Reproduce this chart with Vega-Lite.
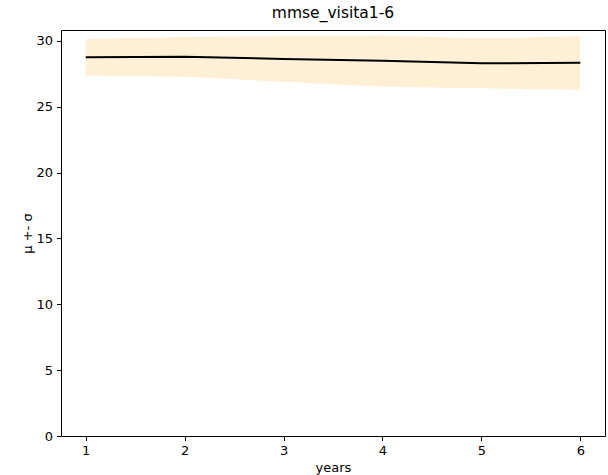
{
  "$schema": "https://vega.github.io/schema/vega-lite/v6.json",
  "width": 544,
  "height": 406,
  "autosize": {"type": "none"},
  "padding": {"left": 61, "top": 30, "right": 3, "bottom": 39},
  "background": "white",
  "title": {
    "text": "mmse_visita1-6",
    "font": "DejaVu Sans",
    "fontSize": 15.5,
    "fontWeight": "normal",
    "color": "black",
    "anchor": "middle",
    "offset": 9
  },
  "config": {
    "view": {"stroke": "black", "strokeWidth": 1},
    "axis": {
      "grid": false,
      "domain": false,
      "tickColor": "black",
      "tickSize": 4.5,
      "tickWidth": 1,
      "labelFont": "DejaVu Sans",
      "labelFontSize": 13,
      "labelColor": "black",
      "labelPadding": 4,
      "titleFont": "DejaVu Sans",
      "titleFontSize": 13,
      "titleFontWeight": "normal",
      "titleColor": "black"
    }
  },
  "data": {
    "values": [
      {"year": 1, "mean": 28.76, "lo": 27.36, "hi": 30.14},
      {"year": 2, "mean": 28.80, "lo": 27.28, "hi": 30.30},
      {"year": 3, "mean": 28.63, "lo": 26.90, "hi": 30.37},
      {"year": 4, "mean": 28.50, "lo": 26.52, "hi": 30.42},
      {"year": 5, "mean": 28.30, "lo": 26.40, "hi": 30.20},
      {"year": 6, "mean": 28.35, "lo": 26.30, "hi": 30.35}
    ]
  },
  "layer": [
    {
      "mark": {"type": "area", "color": "#ffefd5", "opacity": 1},
      "encoding": {
        "x": {
          "field": "year",
          "type": "quantitative",
          "scale": {"domain": [0.75, 6.25], "nice": false, "zero": false},
          "axis": {"values": [1, 2, 3, 4, 5, 6], "format": "d", "title": "years", "titlePadding": 4}
        },
        "y": {
          "field": "hi",
          "type": "quantitative",
          "scale": {"domain": [0, 30.83], "nice": false},
          "axis": {"values": [0, 5, 10, 15, 20, 25, 30], "title": "μ +- σ", "titlePadding": 1}
        },
        "y2": {"field": "lo"}
      }
    },
    {
      "mark": {"type": "line", "color": "black", "strokeWidth": 2},
      "encoding": {
        "x": {"field": "year", "type": "quantitative"},
        "y": {"field": "mean", "type": "quantitative"}
      }
    }
  ]
}
